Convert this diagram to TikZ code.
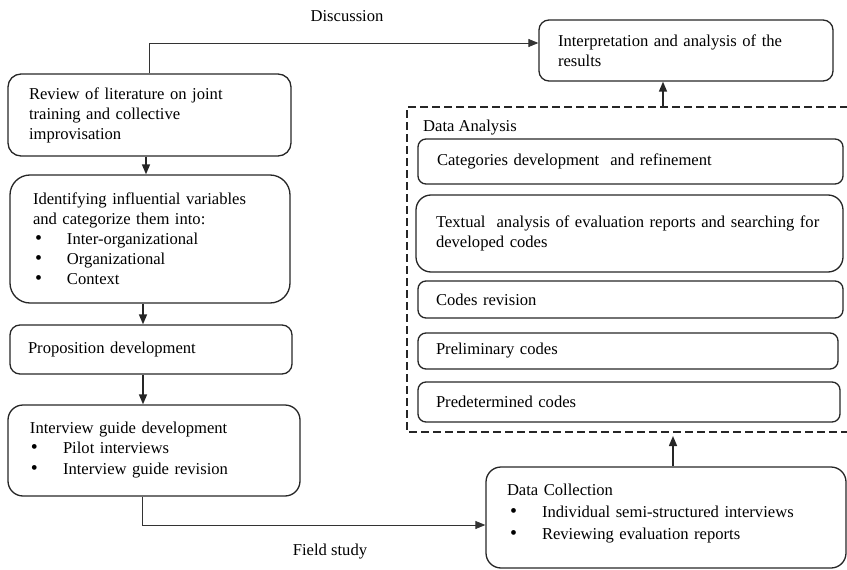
\documentclass[tikz,border=0pt]{standalone}
\usepackage{fontspec}
\setmainfont{Liberation Serif}
\usetikzlibrary{arrows.meta,calc}
\begin{document}
\begin{tikzpicture}[x=1pt,y=-1pt,
  box/.style={draw=black!85,line width=1.3pt,align=left,inner ysep=0pt,font=\fontsize{16.6}{20}\selectfont},
  conn/.style={draw=black!80,line width=0.9pt,-{Triangle[length=10pt,width=8pt]}},
  vconn/.style={draw=black!85,line width=1.5pt,-{Triangle[length=10pt,width=8pt]}},
  lbl/.style={font=\fontsize{16.6}{20}\selectfont,inner sep=0pt}]
\clip (0,0) rectangle (847,570);
\newcommand{\bitem}[2]{\hspace*{#1}\makebox[#2][l]{\scalebox{1.2}{\textbullet}}}
% left column
\node[box,rounded corners=13pt,text width=241pt,inner xsep=21pt,minimum height=82pt] (review) at (149.5,115)
 {Review of literature on joint\\training and collective\\improvisation};
\node[box,rounded corners=20pt,text width=234pt,inner xsep=23pt,minimum height=128pt] (ident) at (150,239)
 {Identifying influential variables\\and categorize them into:\\
 \bitem{2pt}{32pt}Inter-organizational\\
 \bitem{2pt}{32pt}Organizational\\
 \bitem{2pt}{32pt}Context};
\node[box,rounded corners=10pt,text width=246pt,inner xsep=18pt,minimum height=49pt] (prop) at (151,349.5)
 {Proposition development};
\node[box,rounded corners=15pt,text width=248pt,inner xsep=22pt,minimum height=91pt] (interview) at (154,450.5)
 {Interview guide development\\
 \bitem{1pt}{32pt}Pilot interviews\\[1pt]
 \bitem{1pt}{32pt}Interview guide revision};
% right column
\node[box,rounded corners=10pt,text width=256pt,inner xsep=19pt,minimum height=61pt] (interp) at (686,50.5)
 {Interpretation and analysis of the\\results};
\node[lbl,anchor=west] (dalbl) at (423,128) {Data Analysis};
\node[box,rounded corners=8pt,text width=387pt,inner xsep=19pt,minimum height=45pt] (cat) at (630.5,161.5)
 {Categories development\ \ and refinement};
\node[box,rounded corners=15pt,text width=387pt,inner xsep=20pt,minimum height=77pt] (textual) at (629.5,233.5)
 {\mbox{Textual\ \ analysis of evaluation reports and searching for}\\developed codes};
\node[box,rounded corners=8pt,text width=389pt,inner xsep=18pt,minimum height=37pt] (codes) at (630.5,299.5)
 {Codes revision};
\node[box,rounded corners=8pt,text width=384pt,inner xsep=18pt,minimum height=36pt] (prelim) at (628,351)
 {Preliminary codes};
\node[box,rounded corners=8pt,text width=386pt,inner xsep=18pt,minimum height=40pt] (predet) at (629,402)
 {Predetermined codes};
\node[box,rounded corners=15pt,text width=318pt,inner xsep=21pt,minimum height=101pt] (dc) at (666,517.5)
 {Data Collection\\[2pt]
 \bitem{3pt}{32pt}Individual semi-structured interviews\\[2pt]
 \bitem{3pt}{32pt}Reviewing evaluation reports\\[-8pt]\mbox{}};
% dashed data analysis frame (right side cut off by the page edge)
\coordinate (datl) at (407,107);
\coordinate (dabl) at (407,432);
\draw[black!85,line width=1.4pt,dash pattern=on 8pt off 4pt] (860,107) -- (datl) -- (dabl) -- (860,432);
% labels
\node[lbl] (disc) at (347,16) {Discussion};
\node[lbl] (field) at (330,552) {Field study};
% connectors
\coordinate (dy) at (0,43);
\draw[conn] (review.north) |- (interp.west |- dy);
\coordinate (x1) at (146,0);
\draw[vconn] (review.south -| x1) -- (ident.north -| x1);
\coordinate (x2) at (143,0);
\draw[vconn] (ident.south -| x2) -- (prop.north -| x2);
\draw[vconn] (prop.south -| x2) -- (interview.north -| x2);
\coordinate (fx) at (142,0);
\coordinate (fy) at (0,525);
\draw[conn] (interview.south -| fx) |- (dc.west |- fy);
\coordinate (x3) at (673,0);
\draw[vconn] (dc.north -| x3) -- ($(dabl -| x3)+(0,4)$);
\coordinate (x4) at (663,0);
\draw[vconn] (datl -| x4) -- (interp.south -| x4);
\end{tikzpicture}
\end{document}
